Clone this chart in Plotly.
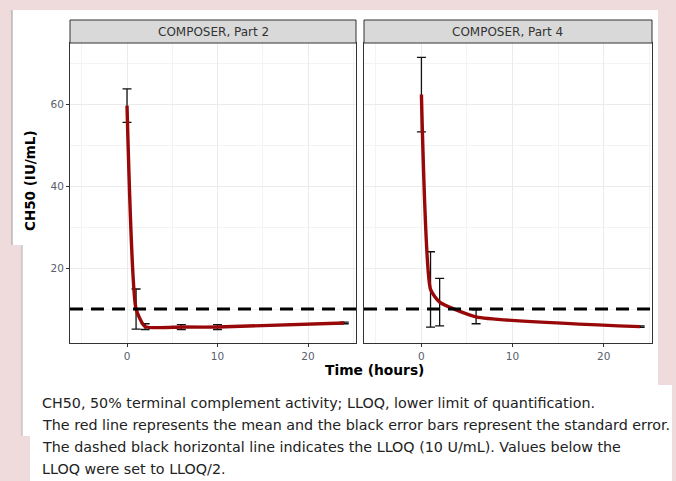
import plotly.graph_objects as go

W, H = 676, 481

# ---- data ----
panel_titles = ["COMPOSER, Part 2", "COMPOSER, Part 4"]
time_p2 = [0, 1, 2, 6, 10, 24]
mean_p2 = [59.7, 10.0, 5.7, 5.6, 5.6, 6.6]
se_p2 = [4.1, 4.9, 0.7, 0.6, 0.6, 0.2]
time_p4 = [0, 1, 2, 6, 24]
mean_p4 = [62.4, 14.8, 11.7, 8.1, 5.7]
se_p4 = [9.1, 9.2, 5.8, 1.7, 0.2]
lloq = 10
x_ticks = [0, 10, 20]
y_ticks = [20, 40, 60]
caption_lines = [
    "CH50, 50% terminal complement activity; LLOQ, lower limit of quantification.",
    "The red line represents the mean and the black error bars represent the standard error.",
    "The dashed black horizontal line indicates the LLOQ (10 U/mL). Values below the",
    "LLOQ were set to LLOQ/2.",
]

FONT = "DejaVu Sans, Liberation Sans, Arial"

# ---- layout helpers (pixel -> paper) ----
def px(x):
    return x / W

def py(y):
    return 1 - y / H

P1 = (70, 356)
P2 = (364, 652)
TOP, BOT = 43, 343
STRIP_TOP = 20

RED = "#980808"
fig = go.Figure()

for i, (t, m, s) in enumerate([(time_p2, mean_p2, se_p2), (time_p4, mean_p4, se_p4)]):
    xa = "x" if i == 0 else "x2"
    ya = "y" if i == 0 else "y2"
    fig.add_trace(go.Scatter(
        x=t, y=m, mode="markers", xaxis=xa, yaxis=ya,
        marker=dict(size=1, color="rgba(0,0,0,0)"),
        error_y=dict(type="data", array=s, visible=True, color="#111111",
                     thickness=1.3, width=4.5),
        showlegend=False, hoverinfo="skip"))
    fig.add_trace(go.Scatter(
        x=t, y=m, mode="lines", xaxis=xa, yaxis=ya,
        line=dict(color=RED, width=3.4, shape="spline", smoothing=0.5),
        showlegend=False))

tickfont = dict(family=FONT, size=10.5, color="#59606b")
axis_common = dict(
    range=[-6.3, 25.3], tickvals=x_ticks, ticktext=[str(v) for v in x_ticks],
    showgrid=True, gridcolor="#ebebeb", gridwidth=1,
    minor=dict(tickvals=[-5, 5, 15, 25], showgrid=True, gridcolor="#f3f3f3", gridwidth=0.6),
    ticks="outside", ticklen=3, tickcolor="#333333", tickwidth=1,
    tickfont=tickfont,
    showline=True, linecolor="#333333", linewidth=1, mirror=True, zeroline=False,
)
yaxis_common = dict(
    range=[1.7, 75], tickvals=y_ticks, ticktext=[str(v) for v in y_ticks],
    showgrid=True, gridcolor="#ebebeb", gridwidth=1,
    minor=dict(tickvals=[10, 30, 50, 70], showgrid=True, gridcolor="#f3f3f3", gridwidth=0.6),
    ticks="outside", ticklen=3, tickcolor="#333333", tickwidth=1,
    tickfont=tickfont,
    showline=True, linecolor="#333333", linewidth=1, mirror=True, zeroline=False,
    domain=[py(BOT), py(TOP)],
)

fig.update_layout(
    width=W, height=H, margin=dict(l=0, r=0, t=0, b=0),
    paper_bgcolor="#efdbdc", plot_bgcolor="white",
    xaxis=dict(axis_common, domain=[px(P1[0]), px(P1[1])], anchor="y"),
    xaxis2=dict(axis_common, domain=[px(P2[0]), px(P2[1])], anchor="y2"),
    yaxis=dict(yaxis_common, anchor="x"),
    yaxis2=dict(yaxis_common, anchor="x2", showticklabels=False, ticks=""),
)

shapes = []
# white card pieces
for (x0, y0, x1, y1) in [(12, 10, 658, 245), (22, 245, 658, 436), (30, 385, 672, 481)]:
    shapes.append(dict(type="rect", xref="paper", yref="paper", layer="below",
                       x0=px(x0), x1=px(x1), y0=py(y1), y1=py(y0),
                       fillcolor="white", line=dict(width=0)))
# card edge lines
shapes.append(dict(type="line", xref="paper", yref="paper", layer="below",
                   x0=px(12), x1=px(12), y0=py(245), y1=py(10),
                   line=dict(color="#9a9a9a", width=1)))
shapes.append(dict(type="line", xref="paper", yref="paper", layer="below",
                   x0=px(22), x1=px(22), y0=py(436), y1=py(245),
                   line=dict(color="#b0b0b0", width=1)))
# strips
for (x0, x1) in [P1, P2]:
    shapes.append(dict(type="rect", xref="paper", yref="paper",
                       x0=px(x0), x1=px(x1), y0=py(TOP), y1=py(STRIP_TOP),
                       fillcolor="#d9d9d9", line=dict(color="#333333", width=1)))
# LLOQ dashed line across both panels
shapes.append(dict(type="line", xref="paper", yref="y",
                   x0=px(P1[0]), x1=px(P2[1]), y0=lloq, y1=lloq,
                   line=dict(color="black", width=3, dash="13px,8px")))
fig.update_layout(shapes=shapes)

ann = []
for title, (x0, x1) in zip(panel_titles, [P1, P2]):
    ann.append(dict(text=title, xref="paper", yref="paper",
                    x=px((x0 + x1) / 2), y=py((STRIP_TOP + TOP) / 2),
                    showarrow=False, xanchor="center", yanchor="middle",
                    font=dict(family=FONT, size=12, color="#333333")))
ann.append(dict(text="<b>CH50 (IU/mL)</b>", xref="paper", yref="paper",
                x=px(30), y=py(181), textangle=-90, showarrow=False,
                xanchor="center", yanchor="middle",
                font=dict(family=FONT, size=13.5, color="black")))
ann.append(dict(text="<b>Time (hours)</b>", xref="paper", yref="paper",
                x=px(374), y=py(370), showarrow=False,
                xanchor="center", yanchor="middle",
                font=dict(family=FONT, size=13.8, color="black")))
for k, line in enumerate(caption_lines):
    ann.append(dict(text=line, xref="paper", yref="paper",
                    x=px(40), y=py(403 + 22 * k), showarrow=False,
                    xanchor="left", yanchor="middle",
                    font=dict(family=FONT, size=14.3, color="#222222")))
fig.update_layout(annotations=ann)

fig.write_html("out.html")
